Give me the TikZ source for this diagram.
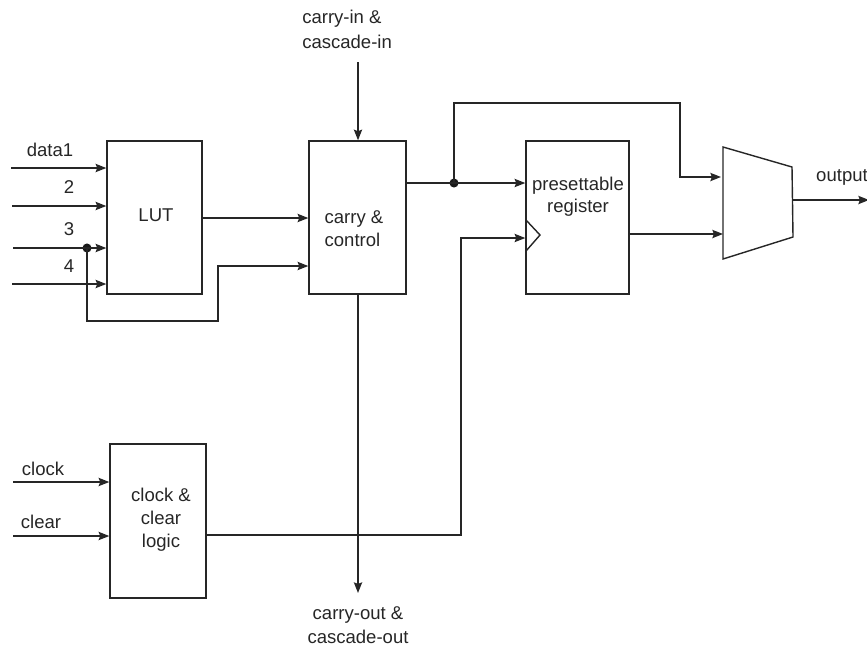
\documentclass[tikz,border=0pt]{standalone}
\usepackage{fontspec}
\setmainfont{Liberation Sans}
\usetikzlibrary{arrows.meta,calc}
\tikzset{
  x=0.75pt,y=-0.75pt,
  line/.style={draw=black!85,line width=1.05pt},
  wire/.style={line,-{Stealth[length=8pt,width=6.2pt,inset=1.2pt]}},
  block/.style={line,draw,rectangle,inner sep=0pt},
  lbl/.style={inner sep=0pt,align=center,font=\fontsize{13.9pt}{18.2pt}\selectfont,text=black!85},
  joint/.style={circle,fill=black!90,inner sep=0pt,minimum size=6.8pt}
}
\begin{document}
\begin{tikzpicture}
\useasboundingbox (0,0) rectangle (867,647);
% blocks
\node[block,minimum width=71.25pt,minimum height=114.75pt] (lut) at (154.5,217.5) {};
\node[block,minimum width=72.75pt,minimum height=114.75pt] (carry) at (357.5,217.5) {};
\node[block,minimum width=77.25pt,minimum height=114.75pt] (reg) at (577.5,217.5) {};
\node[block,minimum width=72pt,minimum height=115.5pt] (clk) at (158,521) {};
\node[lbl] (luttext) at (156,215) {LUT};
\node[lbl,align=left,font=\fontsize{13.9pt}{17.5pt}\selectfont] (carrytext) at (354,229) {carry \&\\control};
\node[lbl,font=\fontsize{13.9pt}{17.3pt}\selectfont] (clktext) at (161,520) {clock \&\\clear\\logic};
\node[lbl,font=\fontsize{13.9pt}{16.5pt}\selectfont] (regtext) at (578,197) {presettable\\register};
% multiplexer
\coordinate (mtl) at (723,147);
\coordinate (mtr) at (792,167);
\coordinate (mbr) at (793,237);
\coordinate (mbl) at (723,259);
\draw[line] (mtl) -- (mtr) -- (mbr) -- (mbl) -- cycle;
% clock triangle on register
\coordinate (cka) at (526,220);
\coordinate (ckb) at (540,235);
\coordinate (ckc) at (526,251);
\draw[line] (cka) -- (ckb) -- (ckc);
% free ends
\coordinate (in1) at (11,168);
\coordinate (in2) at (12,206);
\coordinate (in3) at (13,248);
\coordinate (in4) at (12,284);
\coordinate (inclk) at (13,482);
\coordinate (inclr) at (13,536);
\coordinate (cin) at (358,62);
\coordinate (cout) at (358,593);
\coordinate (oute) at (869,200);
\coordinate (lop) at (87,321);
\coordinate (lop2) at (218,321);
\coordinate (lop3) at (218,266);
\coordinate (by1) at (454,103);
\coordinate (by2) at (680,103);
\coordinate (by3) at (680,177);
\coordinate (ck1) at (461,535);
\coordinate (ck2) at (461,238);
\coordinate (cr) at (406,183);
\coordinate (mi2) at (723,234);
\node[joint] (j1) at (87,248) {};
\node[joint] (j2) at (454,183) {};
% labels
\node[lbl] (ld1) at (50,150) {data1};
\node[lbl] (ld2) at (69,187) {2};
\node[lbl] (ld3) at (69,229) {3};
\node[lbl] (ld4) at (69,266) {4};
\node[lbl] (lck) at (43,469) {clock};
\node[lbl] (lcl) at (41,522) {clear};
\node[lbl,align=left,anchor=west] (lci) at (302,29.5) {carry-in \&\\cascade-in};
\node[lbl] (lco) at (358,625) {carry-out \&\\cascade-out};
\node[lbl] (lout) at (842,177) {output};
% connectors
\draw[wire] (in1) -- (lut.west |- in1);
\draw[wire] (in2) -- (lut.west |- in2);
\draw[wire] (in3) -- (lut.west |- in3);
\draw[wire] (in4) -- (lut.west |- in4);
\draw[wire] (j1.center) -- (lop) -- (lop2) -- (lop3) -- (carry.west |- lop3);
\draw[wire] (lut.east |- 0,218) -- (carry.west |- 0,218);
\draw[wire] (cin) -- (carry.north -| cin);
\draw[wire] (carry.south -| cout) -- (cout);
\draw[wire] (cr) -- (j2.center) -- (reg.west |- j2);
\draw[wire] (j2.center) -- (by1) -- (by2) -- (by3) -- (721,177);
\draw[wire] (reg.east |- mi2) -- (mi2);
\draw[wire] (inclk) -- (clk.west |- inclk);
\draw[wire] (inclr) -- (clk.west |- inclr);
\draw[wire] (clk.east |- ck1) -- (ck1) -- (ck2) -- (reg.west |- ck2);
\draw[wire] (793,200) -- (oute);
\end{tikzpicture}
\end{document}
